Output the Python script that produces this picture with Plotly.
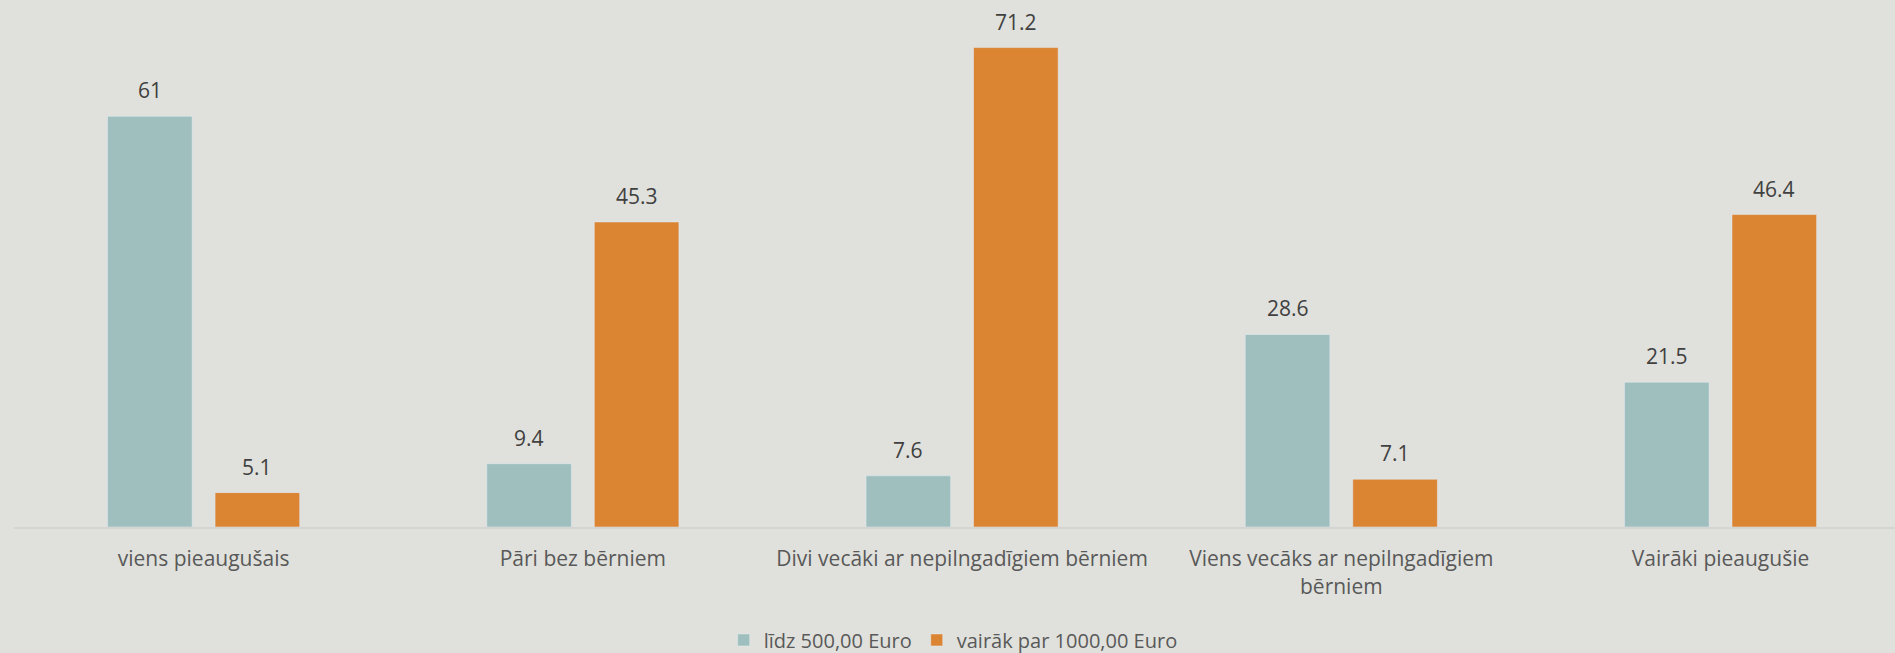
import plotly.graph_objects as go

categories = ["viens pieaugušais", "Pāri bez bērniem", "Divi vecāki ar nepilngadīgiem bērniem",
              "Viens vecāks ar nepilngadīgiem<br>bērniem", "Vairāki pieaugušie"]
series_names = ["līdz 500,00 Euro", "vairāk par 1000,00 Euro"]
low_values = [61, 9.4, 7.6, 28.6, 21.5]
high_values = [5.1, 45.3, 71.2, 7.1, 46.4]
low_labels = ["61", "9.4", "7.6", "28.6", "21.5"]
high_labels = ["5.1", "45.3", "71.2", "7.1", "46.4"]

FONT = "Open Sans"
fig = go.Figure()
fig.add_trace(go.Bar(x=categories, y=low_values, name=series_names[0], marker_color="#9FBFBE"))
fig.add_trace(go.Bar(x=categories, y=high_values, name=series_names[1], marker_color="#DB8431"))

# data labels placed above each bar of the group
HALF_SLOT_PX = 53.8
for vals, labs, sign in ((low_values, low_labels, -1), (high_values, high_labels, 1)):
    for cat, v, lab in zip(categories, vals, labs):
        fig.add_annotation(x=cat, y=v, text=lab, showarrow=False, xshift=sign * HALF_SLOT_PX,
                           yshift=26, yanchor="middle",
                           font=dict(family=FONT, size=21, color="#404040"))

fig.update_layout(
    width=1895, height=653,
    paper_bgcolor="#E0E1DC", plot_bgcolor="#E0E1DC",
    margin=dict(l=14, r=0, t=22, b=126),
    barmode="group", bargap=0.433, bargroupgap=0.213,
    font=dict(family=FONT, size=21, color="#595959"),
    showlegend=True,
    legend=dict(orientation="h", xref="container", yref="container", x=0.503, y=0.02,
                xanchor="center", yanchor="middle", font=dict(size=20, color="#595959"),
                itemwidth=30, tracegroupgap=0),
)
fig.update_xaxes(range=[-0.5, 4.46], showline=True, linecolor="#D4D5D2", linewidth=2,
                 showgrid=False, ticks="", ticklabelstandoff=12,
                 tickfont=dict(family=FONT, size=21, color="#595959"))
fig.update_yaxes(range=[0, 75], visible=False, showgrid=False, zeroline=False)

fig.write_html("out.html", config={"displayModeBar": False},
               post_script="document.body.style.margin='0';document.body.style.overflow='hidden';")
